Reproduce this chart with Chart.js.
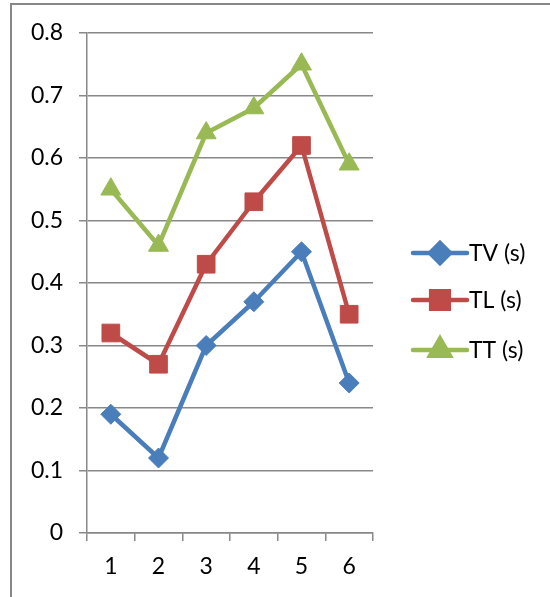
<!DOCTYPE html>
<html>
<head>
<meta charset="utf-8">
<script src="https://cdn.jsdelivr.net/npm/chart.js@4/dist/chart.umd.min.js"></script>
<style>
    body { margin: 0; background: #fff; overflow: hidden; }
    #wrap { position: relative; width: 550px; height: 597px; }
    #frame {
        position: absolute; left: 10px; top: 3px;
        width: 600px; height: 650px;
        border-left: 2px solid #878787;
        border-top: 2px solid #878787;
    }
    canvas { position: absolute; left: 0; top: 0; }
</style>
</head>
<body>
<div id="wrap">
    <div id="frame"></div>
    <canvas id="chart" width="550" height="597"></canvas>
</div>
<script>
// Categories and series
const categories = ['1', '2', '3', '4', '5', '6'];
const tvValues = [0.19, 0.12, 0.30, 0.37, 0.45, 0.24];
const tlValues = [0.32, 0.27, 0.43, 0.53, 0.62, 0.35];
const ttValues = [0.55, 0.46, 0.64, 0.68, 0.75, 0.59];
const seriesNames = ['TV (s)', 'TL (s)', 'TT (s)'];

const FONT = 'Lato, "Open Sans", sans-serif';
const FONT_SIZE = 23;
const gridColor = '#888888';

function series(label, data, color, style, radius) {
    return {
        label: label,
        data: data,
        borderColor: color,
        backgroundColor: color,
        borderWidth: 4.5,
        borderJoinStyle: 'round',
        borderCapStyle: 'round',
        tension: 0,
        pointStyle: style,
        pointRadius: radius,
        pointHoverRadius: radius,
        pointBorderWidth: 1,
        pointBorderColor: color,
        pointBackgroundColor: color
    };
}

// Excel-like legend: short line with the marker in the middle
const sideLegend = {
    id: 'sideLegend',
    afterDraw(chart) {
        const ctx = chart.ctx;
        const x0 = 413, x1 = 467, tx = 469;
        const rows = [253, 300, 350];
        ctx.save();
        chart.data.datasets.forEach((ds, i) => {
            const y = rows[i];
            ctx.strokeStyle = ds.borderColor;
            ctx.lineWidth = 4.5;
            ctx.lineCap = 'round';
            ctx.beginPath();
            ctx.moveTo(x0, y);
            ctx.lineTo(x1, y);
            ctx.stroke();
            ctx.fillStyle = ds.backgroundColor;
            Chart.helpers.drawPoint(ctx, {
                pointStyle: ds.pointStyle,
                radius: ds.pointRadius,
                borderWidth: 1,
                rotation: 0
            }, (x0 + x1) / 2, y);
            ctx.fillStyle = '#000';
            ctx.font = FONT_SIZE + 'px ' + FONT;
            ctx.textAlign = 'left';
            ctx.textBaseline = 'middle';
            ctx.fillText(ds.label, tx, y + 1);
        });
        ctx.restore();
    }
};

new Chart(document.getElementById('chart'), {
    type: 'line',
    data: {
        labels: categories,
        datasets: [
            series(seriesNames[0], tvValues, '#4a7ebb', 'rectRot', 10),
            series(seriesNames[1], tlValues, '#be4b48', 'rect', 12.5),
            series(seriesNames[2], ttValues, '#98b954', 'triangle', 11.5)
        ]
    },
    options: {
        responsive: false,
        animation: false,
        layout: { padding: { top: 33, right: 177, bottom: 0, left: 0 } },
        scales: {
            x: {
                offset: true,
                grid: {
                    offset: true,
                    drawOnChartArea: false,
                    drawTicks: true,
                    tickLength: 8,
                    color: gridColor,
                    lineWidth: 1.5
                },
                border: { color: gridColor, width: 1.5 },
                ticks: {
                    color: '#000',
                    padding: 12,
                    font: { family: FONT, size: FONT_SIZE }
                },
                afterFit(scale) { scale.height = 64; }
            },
            y: {
                min: 0,
                max: 0.8,
                ticks: {
                    stepSize: 0.1,
                    color: '#000',
                    padding: 16,
                    font: { family: FONT, size: FONT_SIZE },
                    callback: (v) => (Math.round(v * 10) / 10).toString()
                },
                grid: {
                    color: gridColor,
                    lineWidth: 1.5,
                    tickLength: 8
                },
                border: { color: gridColor, width: 1.5 },
                afterFit(scale) { scale.width = 87; }
            }
        },
        plugins: {
            legend: { display: false },
            tooltip: { enabled: false }
        }
    },
    plugins: [sideLegend]
});
</script>
</body>
</html>
